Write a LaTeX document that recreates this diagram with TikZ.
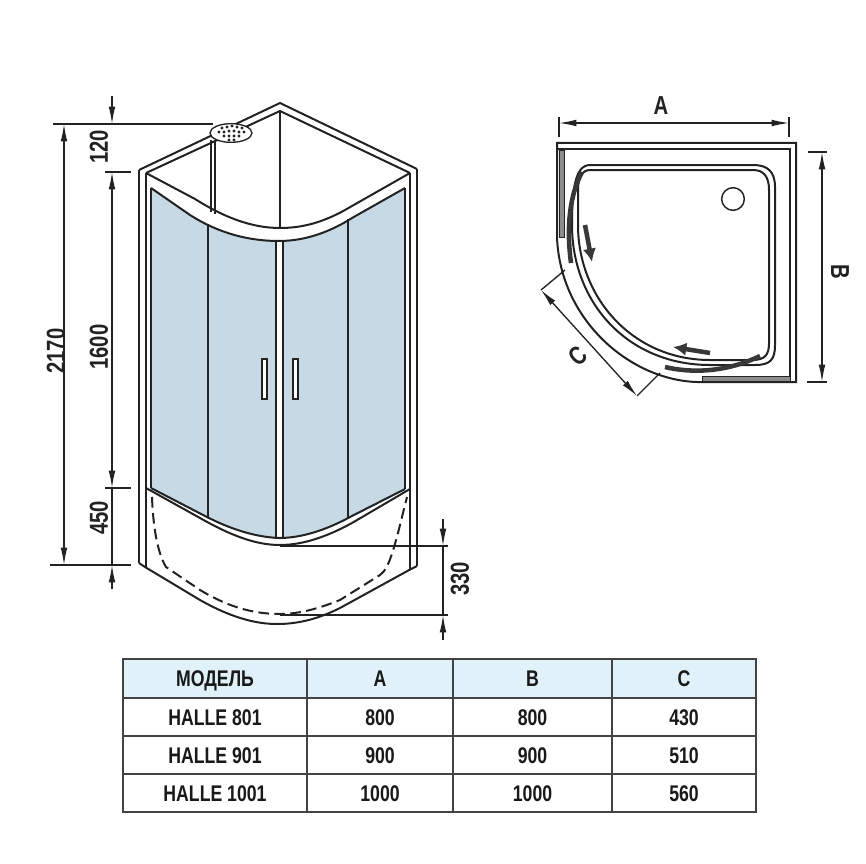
\documentclass[tikz,border=0pt]{standalone}
\usepackage{fontspec}
\setmainfont{Liberation Sans}[FakeStretch=0.78]
\usetikzlibrary{arrows.meta}
\usetikzlibrary{shapes.geometric}
\definecolor{glass}{HTML}{C6D9E5}
\definecolor{headfill}{HTML}{E0F1FA}
\definecolor{inkline}{HTML}{222222}
\tikzset{>={Latex[length=13pt,width=5pt]},
frame/.style={line width=1.5pt,draw=inkline,line join=miter},
thin frame/.style={line width=1.1pt,draw=inkline},
dim/.style={line width=1pt,draw=inkline},
dimtext/.style={font=\fontsize{19.5}{22}\selectfont\bfseries,text=inkline,inner sep=0pt},
cell/.style={draw=inkline!85,line width=1.2pt,inner sep=0pt,outer sep=0pt,text=black!90,text height=12.2pt,text depth=0pt,font=\fontsize{17}{20}\selectfont\bfseries},
door/.style={line width=3.4pt,draw=inkline!90},
slide/.style={line width=3.4pt,draw=inkline!90,-{Latex[length=10pt,width=10pt]}},
strip/.style={fill=black!45,draw=inkline,line width=0.6pt}}
\begin{document}
\begin{tikzpicture}[x=0.75pt,y=-0.75pt]
\useasboundingbox (0,0) rectangle (866,863);
% glass
\fill[glass] (151,188) -- (190,215) .. controls (220,234) and (250,241) .. (276,241) -- (276,538) .. controls (255,537) and (230,529) .. (205,516) -- (151,488) -- cycle;
\fill[glass] (283,241) .. controls (305,241) and (330,232) .. (352,218) -- (405,188) -- (405,489) -- (350,517) .. controls (328,529) and (303,538) .. (283,538) -- cycle;
% back of the cabin
\draw[frame] (146,173) -- (280,111) -- (410,173);
\draw[frame] (139,170) -- (280,103) -- (417,169);
\draw[thin frame] (280,111) -- (280,228);
\draw[thin frame] (211,140) -- (211,212);
\draw[thin frame] (215,140) -- (215,214);
% top band
\draw[frame] (146,173) -- (195,199) .. controls (222,216) and (250,228) .. (280,228) .. controls (305,228) and (325,221) .. (345,210) -- (410,173);
\draw[frame] (151,188) -- (190,215) .. controls (220,234) and (250,241) .. (279,241) .. controls (305,241) and (330,232) .. (352,218) -- (405,188);
% posts
\foreach \x/\yt/\yb in {139/170/563, 146/173/567, 151/188/488, 405/188/489, 410/173/569, 417/169/566} {
\draw[frame] (\x,\yt) -- (\x,\yb);
}
\foreach \x/\yt/\yb in {208/225/517, 348/219/518, 276/241/538, 283/241/538} {
\draw[thin frame] (\x,\yt) -- (\x,\yb);
}
% handles
\foreach \x in {262, 293} {
\draw[frame,line width=1.1pt,fill=white] (\x,359) rectangle (\x+5,399);
}
% bottom bands
\draw[frame] (151,488) -- (205,516) .. controls (230,529) and (255,537) .. (279,538) .. controls (303,538) and (328,529) .. (350,517) -- (405,489);
\draw[frame] (146,488) -- (200,518) .. controls (230,535) and (255,545) .. (280,545) .. controls (305,545) and (330,535) .. (352,523) -- (410,489);
\draw[frame] (139,563) -- (145,567) -- (200,600) .. controls (230,617) and (255,624) .. (277,624) .. controls (300,624) and (320,618) .. (340,608) -- (411,569) -- (417,566);
\draw[frame,dash pattern=on 8pt off 4pt] (152,497) .. controls (153,525) and (157,552) .. (166,567) -- (200,590) .. controls (225,605) and (250,614) .. (280,614) .. controls (300,614) and (320,608) .. (340,600) -- (380,575) .. controls (390,568) and (395,545) .. (407,497);
% shower head
\node (head) at (231,133) [ellipse,minimum width=31.5pt,minimum height=14pt,inner sep=0pt,draw=inkline,line width=1pt,fill=white] {};
\foreach \x/\y in {222/128, 227/127, 232/126, 237/127, 242/128, 219/132, 224/132, 229/131, 234/131, 239/132, 244/132, 224/136, 229/136, 234/136, 239/136, 229/140, 234/140} {
\fill[inkline] (\x,\y) circle (1.2pt);
}
% heights
\coordinate (h0) at (53,124);
\coordinate (h1) at (64,124);
\coordinate (h2) at (64,565);
\coordinate (hd) at (213,124);
\coordinate (k0) at (112,96);
\coordinate (k1) at (112,124);
\coordinate (k2) at (112,172);
\coordinate (k4) at (112,488);
\coordinate (k5) at (112,565);
\coordinate (k6) at (112,589);
\draw[dim] (h0) -- (hd);
\draw[dim] (50,565) -- (131,565);
\draw[dim] (105,172) -- (131,172);
\draw[dim] (105,488) -- (131,488);
\draw[dim,<->] (h1) -- (h2);
\draw[dim,->] (k0) -- (k1);
\draw[dim,<->] (k2) -- (k4);
\draw[dim] (k4) -- (k5);
\draw[dim,->] (k6) -- (k5);
\node (l2170) at (56,351) [dimtext,rotate=90] {2170};
\node (l120) at (99,147) [dimtext,rotate=90] {120};
\node (l1600) at (99,347) [dimtext,rotate=90] {1600};
\node (l450) at (99,518) [dimtext,rotate=90] {450};
% tray depth
\coordinate (t0) at (443,519);
\coordinate (t1) at (443,546);
\coordinate (t2) at (443,615);
\coordinate (t3) at (443,640);
\draw[dim] (280,546) -- (448,546);
\draw[dim] (280,615) -- (448,615);
\draw[dim,->] (t0) -- (t1);
\draw[dim] (t1) -- (t2);
\draw[dim,->] (t3) -- (t2);
\node (l330) at (460,579) [dimtext,rotate=90] {330};
% plan view
\draw[frame] (557,237) -- (557,143) -- (796,143) -- (796,382) -- (697,382) .. controls (630,380) and (560,320) .. (557,237);
\draw[frame] (557,149) -- (790,149) -- (790,382);
\draw[strip] (559,150) rectangle (564,237);
\draw[strip] (702,376) rectangle (790,381);
\draw[frame] (590,165) -- (753,165) .. controls (768,165) and (775,172) .. (775,187) -- (775,345) .. controls (775,360) and (770,365) .. (755,365) -- (710,365) .. controls (628,365) and (572,303) .. (572,225) .. controls (572,190) and (575,165) .. (590,165);
\draw[frame] (590,170) -- (753,170) .. controls (764,170) and (769,177) .. (769,190) -- (769,343) .. controls (769,355) and (765,360) .. (752,360) -- (710,360) .. controls (633,360) and (578,298) .. (578,225) -- (578,190) .. controls (578,178) and (582,170) .. (590,170);
\node (drain) at (733,199) [circle,minimum size=17pt,inner sep=0pt,draw=inkline,line width=1.1pt] {};
\draw[door] (582,172) .. controls (570,195) and (566,225) .. (571,263);
\draw[door] (665,367) .. controls (690,373) and (725,373) .. (760,356);
\draw[slide] (585,225) -- (592,262);
\draw[slide] (710,353) -- (673,347);
% plan dimensions
\coordinate (a1) at (559,123);
\coordinate (a2) at (789,123);
\coordinate (b1) at (822,152);
\coordinate (b2) at (822,382);
\coordinate (c1) at (541,290);
\coordinate (c2) at (637,396);
\draw[dim] (559,117) -- (559,137);
\draw[dim] (789,117) -- (789,137);
\draw[dim] (808,152) -- (827,152);
\draw[dim] (807,382) -- (827,382);
\draw[dim] (565,270) -- (c1);
\draw[dim] (660,373) -- (c2);
\draw[dim,<->] (a1) -- (a2);
\draw[dim,<->] (b1) -- (b2);
\draw[dim,<->] (c1) -- (c2);
\node (la) at (661,106) [dimtext] {A};
\node (lb) at (840,272) [dimtext,rotate=-90] {B};
\node (lc) at (578,356) [dimtext,rotate=42] {C};
% table
\foreach \r/\y/\h/\fillc/\m/\a/\b/\c in {0/678.5/39/headfill/МОДЕЛЬ/A/B/C,
1/717.5/38/white/HALLE 801/800/800/430,
2/755/37.5/white/HALLE 901/900/900/510,
3/793/38/white/HALLE 1001/1000/1000/560} {
\node (m\r) at (215,\y) [cell,fill=\fillc,minimum width=138pt,minimum height=\h*0.75pt] {\m};
\node (a\r) at (380,\y) [cell,fill=\fillc,minimum width=109.5pt,minimum height=\h*0.75pt] {\a};
\node (b\r) at (532.5,\y) [cell,fill=\fillc,minimum width=119.25pt,minimum height=\h*0.75pt] {\b};
\node (c\r) at (684,\y) [cell,fill=\fillc,minimum width=108pt,minimum height=\h*0.75pt] {\c};
}
\end{tikzpicture}
\end{document}
